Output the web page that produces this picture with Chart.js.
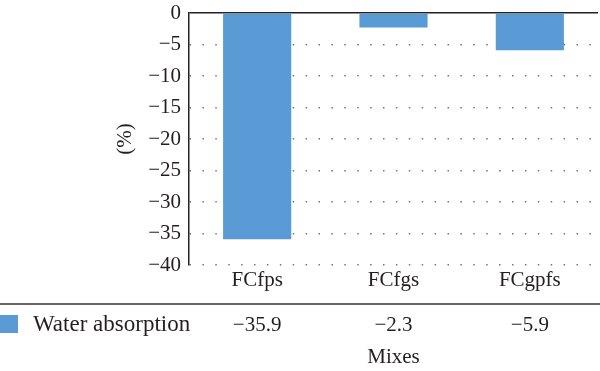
<!DOCTYPE html>
<html><head><meta charset="utf-8">
<script src="https://cdn.jsdelivr.net/npm/chart.js@4"></script>
<style>html,body{margin:0;padding:0;background:#fff}#wrap{width:600px;height:371px}</style>
</head><body><div id="wrap"><canvas id="c" width="600" height="371"></canvas></div>
<script>
const categories = ['FCfps', 'FCfgs', 'FCgpfs'];
const seriesName = 'Water absorption';
const waterAbsorption = [-35.9, -2.3, -5.9];
const yMin = -40, yMax = 0, yStep = 5;
const xTitle = 'Mixes';
const yTitle = '(%)';

const BAR = '#5B9BD5';
const INK = '#231f20';
const FONT = 'Liberation Serif';
const fmt = v => String(v).replace('-', '\u2212');

Chart.defaults.font.family = FONT;
Chart.defaults.color = INK;

const tablePlugin = {
  id: 'table',
  afterDraw(chart) {
    const ctx = chart.ctx, xs = chart.scales.x, ca = chart.chartArea;
    ctx.save();
    ctx.strokeStyle = '#333';
    ctx.lineWidth = 1.5;
    ctx.beginPath(); ctx.moveTo(0, 304); ctx.lineTo(600, 304); ctx.stroke();
    ctx.fillStyle = BAR;
    ctx.fillRect(0, 315, 18, 18);
    ctx.fillStyle = INK;
    ctx.textBaseline = 'middle';
    ctx.textAlign = 'left';
    ctx.font = '23px "' + FONT + '"';
    ctx.fillText(seriesName, 33, 325);
    ctx.font = '21px "' + FONT + '"';
    ctx.textAlign = 'center';
    waterAbsorption.forEach((v, i) => {
      ctx.fillText(fmt(v.toFixed(1)), xs.getPixelForValue(i), 325);
    });
    ctx.fillText(xTitle, (ca.left + ca.right) / 2, 357);
    ctx.restore();
  }
};

new Chart(document.getElementById('c'), {
  type: 'bar',
  data: {
    labels: categories,
    datasets: [{
      label: seriesName,
      data: waterAbsorption,
      backgroundColor: BAR,
      borderWidth: 0,
      barPercentage: 0.5,
      categoryPercentage: 1
    }]
  },
  options: {
    responsive: false,
    animation: false,
    devicePixelRatio: 1,
    layout: { padding: { left: 0, right: 2, top: 13, bottom: 67 } },
    plugins: { legend: { display: false }, tooltip: { enabled: false } },
    scales: {
      x: {
        grid: { display: false, drawTicks: false },
        border: { display: false },
        ticks: { font: { size: 21 }, color: INK, padding: 3 },
        afterFit: s => { s.height = 39; s.paddingLeft = 0; s.paddingRight = 0; }
      },
      y: {
        min: yMin, max: yMax,
        ticks: { stepSize: yStep, font: { size: 21 }, color: INK, padding: 8,
                 callback: v => fmt(v) },
        grid: {
          drawTicks: false,
          color: c => (c.tick && c.tick.value === 0) ? '#222' : '#777',
          lineWidth: 1.5
        },
        border: { display: true, color: '#222', width: 1.5,
                  dash: c => (c.tick && c.tick.value === 0) ? [] : [1.5, 11.4] },
        title: { display: true, text: yTitle, font: { size: 21 }, color: INK,
                 padding: { top: 113, bottom: 0 } },
        afterFit: s => { s.width = 189; s.paddingTop = 0; s.paddingBottom = 0; }
      }
    }
  },
  plugins: [tablePlugin]
});
</script></body></html>
